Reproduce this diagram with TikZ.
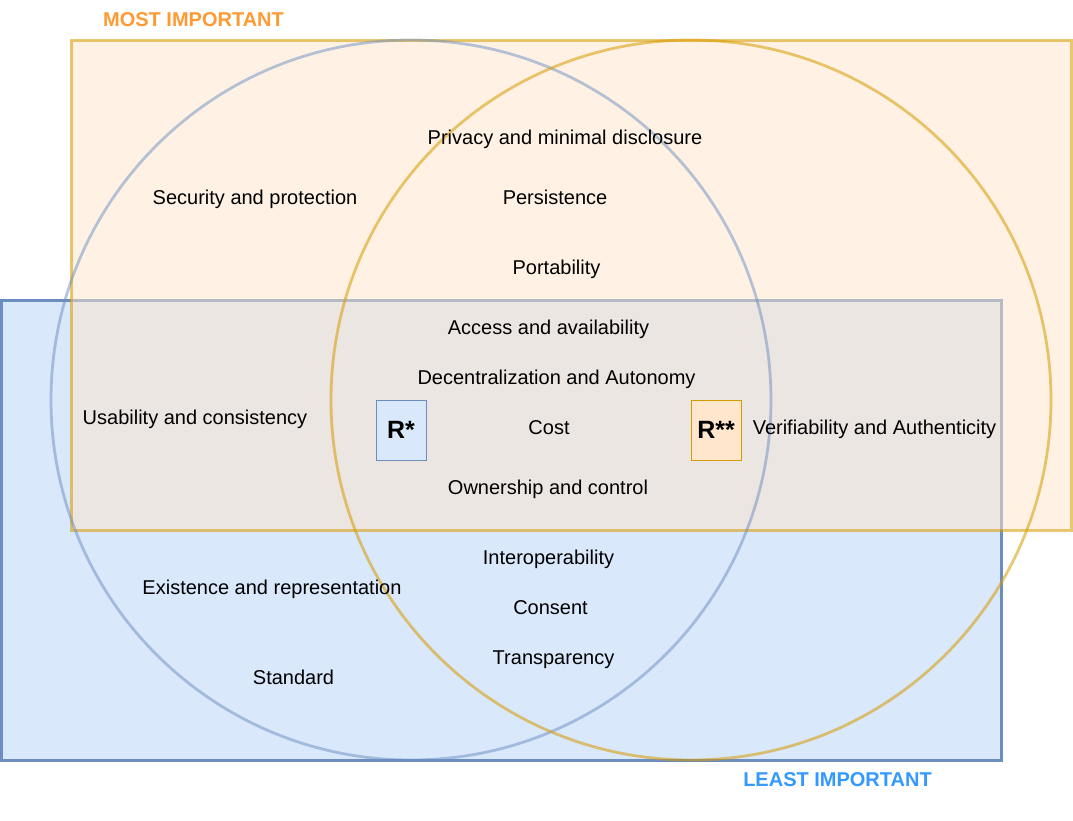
\documentclass[tikz,border=0pt]{standalone}
\usepackage{fontspec}
\setmainfont{Liberation Sans}
\definecolor{bfill}{HTML}{DAE8FC}
\definecolor{bline}{HTML}{6C8EBF}
\definecolor{ofill}{HTML}{FFE6CC}
\definecolor{oline}{HTML}{D79B00}
\definecolor{mostc}{HTML}{FF9933}
\definecolor{leastc}{HTML}{3399FF}
\tikzset{
  lbl/.style={anchor=base, inner sep=0pt, font=\fontsize{20}{24}\selectfont},
  head/.style={anchor=base, inner sep=0pt, font=\fontsize{20}{24}\selectfont\bfseries},
  rbox/.style={minimum width=50pt, minimum height=60pt, inner sep=0pt, line width=1pt, font=\fontsize{25}{30}\selectfont\bfseries},
}
\begin{document}
\begin{tikzpicture}[x=1pt,y=-1pt]
\useasboundingbox (0,0) rectangle (1073,820);
% blue rectangle
\draw[fill=bfill, draw=bline, line width=3pt] (1,300) rectangle (1001,760);
% orange rectangle (semi-transparent)
\draw[fill=ofill, fill opacity=0.5, draw=oline, draw opacity=0.55, line width=3pt] (71,40) rectangle (1071,530);
% circles
\draw[draw=bline, draw opacity=0.5, line width=2.8pt] (411,400) circle[radius=360];
\draw[draw=oline, draw opacity=0.55, line width=2.8pt] (691,400) circle[radius=360];
% headings
\node[head, text=mostc] (most) at (193.5,26) {MOST IMPORTANT};
\node[head, text=leastc] (least) at (837.5,786) {LEAST IMPORTANT};
% labels
\node[lbl] (privacy) at (565,144) {Privacy and minimal disclosure};
\node[lbl] (security) at (255,204) {Security and protection};
\node[lbl] (persist) at (555,204) {Persistence};
\node[lbl] (port) at (556.5,274) {Portability};
\node[lbl] (access) at (548.5,334) {Access and availability};
\node[lbl] (decent) at (556.5,384) {Decentralization and Autonomy};
\node[lbl] (usab) at (195,424) {Usability and consistency};
\node[lbl] (cost) at (549,434) {Cost};
\node[lbl] (verif) at (874.5,434) {Verifiability and Authenticity};
\node[lbl] (owner) at (548,494) {Ownership and control};
\node[lbl] (interop) at (548.5,564) {Interoperability};
\node[lbl] (exist) at (272,594) {Existence and representation};
\node[lbl] (consent) at (550.5,614) {Consent};
\node[lbl] (transp) at (553.5,664) {Transparency};
\node[lbl] (standard) at (293.5,684) {Standard};
% R boxes
\node[rbox, fill=bfill, draw=bline] (r1) at (401,430) {R*};
\node[rbox, fill=ofill, draw=oline] (r2) at (716,430) {R**};
\end{tikzpicture}
\end{document}
